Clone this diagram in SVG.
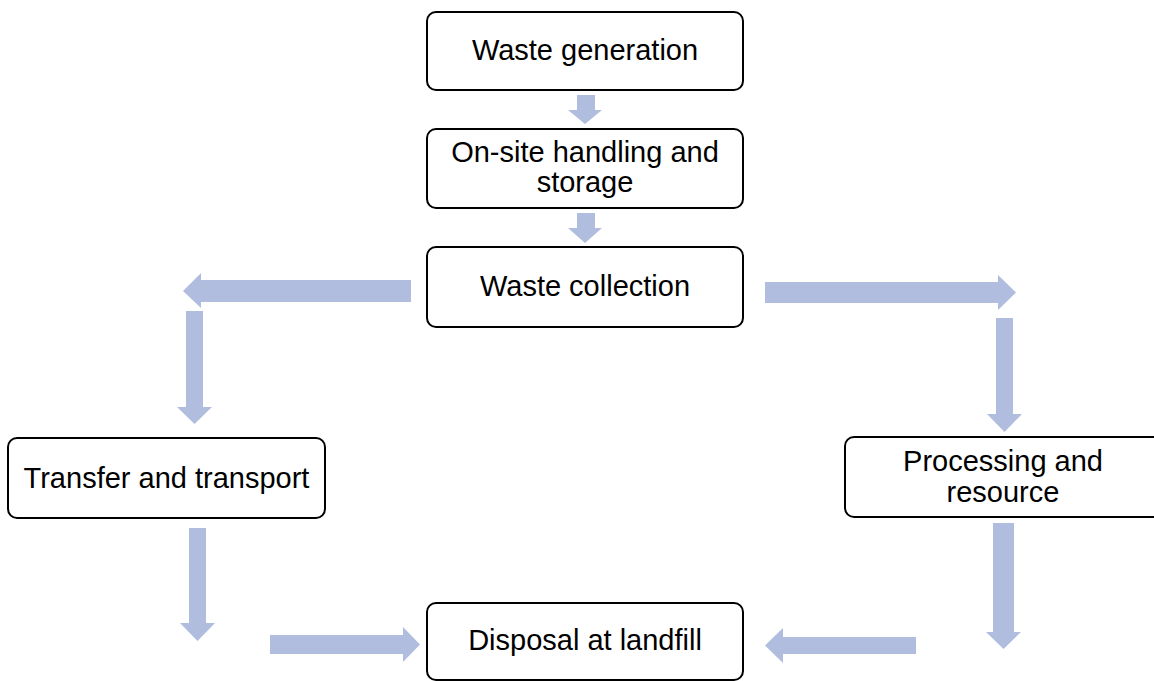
<svg xmlns="http://www.w3.org/2000/svg" width="1154" height="681" viewBox="0 0 1154 681">
  <style>
    .box { fill: #ffffff; stroke: #000000; stroke-width: 2; }
    .label { font-family: "Liberation Sans", Arial, sans-serif; font-size: 29px; fill: #000000; text-anchor: middle; }
    .flow { fill: #B0BDDF; }
  </style>
  <rect width="1154" height="681" fill="#ffffff"/>

  <!-- block arrows -->
  <g id="connectors">
    <!-- generation -> handling -->
    <polygon class="flow" points="577,95 595,95 595,110 602,110 585,124 568,110 577,110"/>
    <!-- handling -> collection -->
    <polygon class="flow" points="577,213 595,213 595,228 602,228 585,243 568,228 577,228"/>
    <!-- collection -> left -->
    <polygon class="flow" points="411,280 201,280 201,273 183,291 201,308 201,302 411,302"/>
    <!-- left -> down to transfer -->
    <polygon class="flow" points="186,311 203,311 203,407 212,407 194.5,424 177,407 186,407"/>
    <!-- collection -> right -->
    <polygon class="flow" points="765,282 998,282 998,275 1016,292.5 998,310 998,303 765,303"/>
    <!-- right -> down to processing -->
    <polygon class="flow" points="996,318 1013,318 1013,414 1022,414 1004.5,432 987,414 996,414"/>
    <!-- transfer -> down -->
    <polygon class="flow" points="189,528 206,528 206,623 215,623 197.5,641 180,623 189,623"/>
    <!-- right toward disposal -->
    <polygon class="flow" points="270,635 403,635 403,627 420,644.5 403,662 403,654 270,654"/>
    <!-- processing -> down -->
    <polygon class="flow" points="993,523 1014,523 1014,632 1021,632 1003.5,649 986,632 993,632"/>
    <!-- left toward disposal -->
    <polygon class="flow" points="916,637 783,637 783,628 765,645.5 783,663 783,654 916,654"/>
  </g>

  <g id="waste-generation">
    <rect class="box" x="427" y="12" width="316" height="78" rx="9"/>
    <text class="label" x="585" y="60">Waste generation</text>
  </g>

  <g id="onsite-handling">
    <rect class="box" x="427" y="129" width="316" height="79" rx="9"/>
    <text class="label" x="585" y="162">On-site handling and</text>
    <text class="label" x="585" y="192">storage</text>
  </g>

  <g id="waste-collection">
    <rect class="box" x="427" y="247" width="316" height="80" rx="9"/>
    <text class="label" x="585" y="296">Waste collection</text>
  </g>

  <g id="transfer-transport">
    <rect class="box" x="8" y="438" width="317" height="80" rx="9"/>
    <text class="label" x="166.5" y="488">Transfer and transport</text>
  </g>

  <g id="processing-resource">
    <rect class="box" x="845" y="437" width="320" height="80" rx="9"/>
    <text class="label" x="1003" y="471">Processing and</text>
    <text class="label" x="1003" y="502">resource</text>
  </g>

  <g id="disposal-landfill">
    <rect class="box" x="427" y="603" width="316" height="77" rx="9"/>
    <text class="label" x="585" y="650">Disposal at landfill</text>
  </g>
</svg>
